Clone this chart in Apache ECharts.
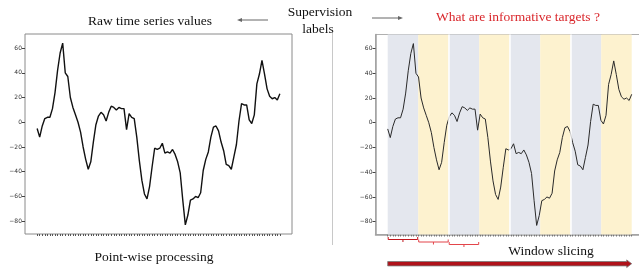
<!DOCTYPE html>
<html>
<head>
<meta charset="utf-8">
<script src="https://cdn.jsdelivr.net/npm/echarts@6/dist/echarts.min.js"></script>
<style>
  html, body { margin: 0; padding: 0; background: #fff; }
  #chart { width: 639px; height: 272px; }
</style>
</head>
<body>
<div id="chart"></div>
<script>
// raw series values, one per time step
const seriesValues = [
  -5, -12, -3, 3, 4, 4, 11, 24, 42, 56,
  64, 40, 37, 20, 12, 6, 0, -8, -20, -30,
  -38, -32, -16, -2, 5, 8, 6, 1, 8, 13,
  12, 10, 12, 11, 11, -6, 7, 4, 3, -12,
  -31, -47, -58, -62, -52, -36, -21, -22, -21, -17,
  -25, -24, -25, -22, -26, -32, -41, -63, -83, -75,
  -63, -62, -60, -61, -57, -39, -30, -24, -12, -4,
  -3, -7, -16, -23, -34, -35, -38, -28, -18, 1,
  15, 14, 14, 2, -1, 6, 31, 39, 50, 39,
  27, 21, 19, 20, 18, 23
];
const yTicks = [-80, -60, -40, -20, 0, 20, 40, 60];
// window boundaries (8 windows over the series)
const windowBounds = [0, 11.875, 23.75, 35.625, 47.5, 59.375, 71.25, 83.125, 95];
const windowSeparators = [23.75, 47.5, 71.25];
// first three windows marked with brackets: [start, end, level]
const bracketWindows = [[0, 11.875, 0], [11.875, 23.75, 1], [23.75, 35.625, 2]];
const slicingArrow = [[0, 95]];

const xMin = -4.75, xMax = 99.75;
const yMin = -90.35, yMax = 71.35;
const indices = seriesValues.map((_, i) => i);
const points = seriesValues.map((v, i) => [i, v]);

const GRAY_BAND = "#e4e7ee";
const YELLOW_BAND = "#fdf2cf";
const serif = "Liberation Serif";

function makeXAxis(gridIndex, tickColor) {
  return {
    type: "value",
    gridIndex,
    min: xMin,
    max: xMax,
    splitLine: { show: false },
    axisLine: { show: gridIndex === 1, onZero: false, lineStyle: { color: "#a0a0a0", width: 1.5 } },
    axisLabel: { show: false },
    axisTick: {
      show: true,
      customValues: indices,
      length: 2,
      lineStyle: { color: tickColor, width: 1 }
    }
  };
}

function makeYAxis(gridIndex) {
  return {
    type: "value",
    gridIndex,
    min: yMin,
    max: yMax,
    splitLine: { show: false },
    axisLine: { show: gridIndex === 1, onZero: false, lineStyle: { color: "#a0a0a0", width: 1.5 } },
    axisTick: { show: true, customValues: yTicks, length: 3, lineStyle: { color: "#444" } },
    axisLabel: {
      customValues: yTicks,
      fontSize: 6,
      fontFamily: "DejaVu Sans",
      color: "#333",
      margin: 3,
      formatter: (v) => String(v).replace("-", "\u2212")
    }
  };
}

const bandAreas = windowBounds.slice(0, -1).map((b, k) => [
  { xAxis: b, itemStyle: { color: k % 2 ? YELLOW_BAND : GRAY_BAND } },
  { xAxis: windowBounds[k + 1] }
]);

function textEl(text, x, y, opts = {}) {
  return {
    type: "text",
    x, y,
    style: Object.assign({
      text,
      fontFamily: serif,
      fontSize: 13.5,
      fill: "#111",
      align: "center",
      verticalAlign: "middle"
    }, opts)
  };
}

function arrowEl(x1, x2, y) {
  const dir = x2 > x1 ? 1 : -1;
  return {
    type: "group",
    children: [
      { type: "line", shape: { x1, y1: y, x2: x2 - dir * 3, y2: y }, style: { stroke: "#666", lineWidth: 1 } },
      { type: "polygon", shape: { points: [[x2, y], [x2 - dir * 5, y - 2], [x2 - dir * 5, y + 2]] }, style: { fill: "#666" } }
    ]
  };
}

const chart = echarts.init(document.getElementById("chart"), null, { renderer: "canvas" });

chart.setOption({
  animation: false,
  backgroundColor: "#fff",
  grid: [
    { left: 25, top: 34, width: 267, height: 200, show: true, borderColor: "#8a8a8a", borderWidth: 1, outerBoundsMode: "none", containLabel: false },
    { left: 375.5, top: 34.5, width: 268.4, height: 200, show: true, borderColor: "#b0b0b0", borderWidth: 1, outerBoundsMode: "none", containLabel: false }
  ],
  xAxis: [makeXAxis(0, "#555"), makeXAxis(1, "#777")],
  yAxis: [makeYAxis(0), makeYAxis(1)],
  series: [
    {
      type: "line",
      xAxisIndex: 0, yAxisIndex: 0,
      data: points,
      showSymbol: false,
      lineStyle: { color: "#111", width: 1.4 },
      z: 3
    },
    {
      // background windows
      type: "line",
      xAxisIndex: 1, yAxisIndex: 1,
      data: points,
      showSymbol: false,
      lineStyle: { width: 0, opacity: 0 },
      z: 1,
      silent: true,
      markArea: { silent: true, data: bandAreas },
      markLine: {
        silent: true,
        symbol: "none",
        label: { show: false },
        lineStyle: { color: "#fff", width: 1.5, type: "solid" },
        data: windowSeparators.map((x) => ({ xAxis: x }))
      }
    },
    {
      type: "line",
      xAxisIndex: 1, yAxisIndex: 1,
      data: points,
      showSymbol: false,
      lineStyle: { color: "#2a2a2a", width: 1 },
      z: 3
    },
    {
      type: "custom",
      xAxisIndex: 1, yAxisIndex: 1,
      clip: false,
      silent: true,
      data: bracketWindows,
      encode: { x: [0, 1], y: 2 },
      renderItem(params, api) {
        const s = api.coord([api.value(0), yMin]);
        const e = api.coord([api.value(1), yMin]);
        const level = api.value(2);
        const y = s[1] + 5 + level * 2.5;
        const mx = (s[0] + e[0]) / 2;
        const color = level === 0 ? "#c0161c" : "#e3454a";
        return {
          type: "group",
          children: [
            { type: "polyline", shape: { points: [[s[0] + 0.5, y - 2.5], [s[0] + 0.5, y], [e[0] - 0.5, y], [e[0] - 0.5, y - 2.5]] }, style: { stroke: color, lineWidth: 1, fill: null } },
            { type: "line", shape: { x1: mx, y1: y, x2: mx, y2: y + 2.5 }, style: { stroke: color, lineWidth: 1 } }
          ]
        };
      }
    },
    {
      type: "custom",
      xAxisIndex: 1, yAxisIndex: 1,
      clip: false,
      silent: true,
      data: slicingArrow,
      encode: { x: [0, 1] },
      renderItem(params, api) {
        const s = api.coord([api.value(0), yMin]);
        const e = api.coord([api.value(1), yMin]);
        const y = s[1] + 29.2;
        const head = 5;
        return {
          type: "polygon",
          shape: {
            points: [
              [s[0], y - 2.2], [e[0] - head, y - 2.2], [e[0] - head, y - 3.8], [e[0], y],
              [e[0] - head, y + 3.8], [e[0] - head, y + 2.2], [s[0], y + 2.2]
            ]
          },
          style: { fill: "#b0121a", stroke: "#7a7a7a", lineWidth: 0.8 }
        };
      }
    }
  ],
  graphic: [
    textEl("Raw time series values", 150, 21),
    arrowEl(268, 237, 20),
    textEl("Supervision", 320, 12),
    textEl("labels", 318, 29),
    arrowEl(372, 403, 18),
    textEl("What are informative targets ?", 518, 17, { fill: "#d9262b" }),
    textEl("Point-wise processing", 154, 257),
    textEl("Window slicing", 551, 251),
    { type: "line", shape: { x1: 332.5, y1: 33, x2: 332.5, y2: 245 }, style: { stroke: "#c8c8c8", lineWidth: 1 } }
  ]
});
</script>
</body>
</html>
